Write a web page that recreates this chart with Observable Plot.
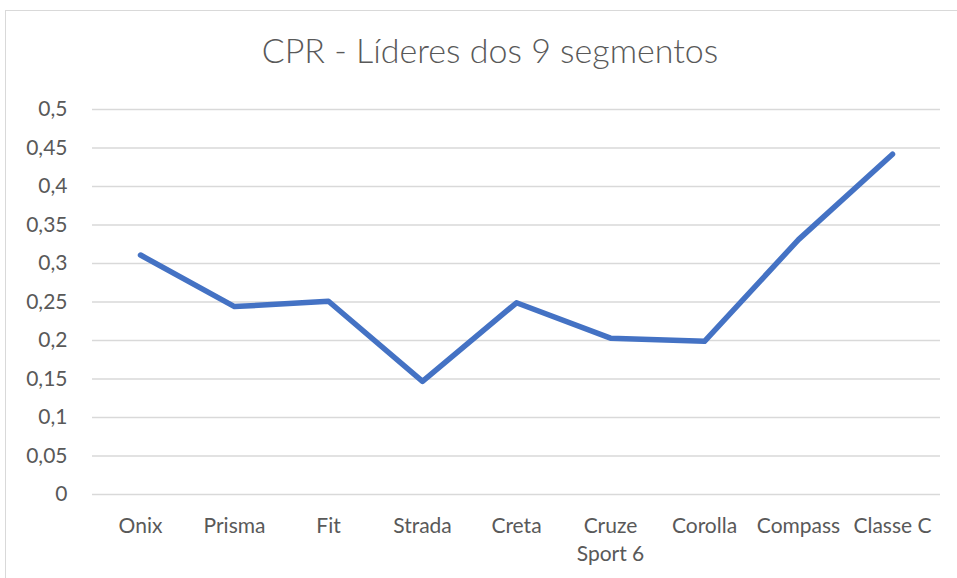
<!DOCTYPE html>
<html>
<head>
<meta charset="utf-8">
<script src="https://cdn.jsdelivr.net/npm/d3@7"></script>
<script src="https://cdn.jsdelivr.net/npm/@observablehq/plot@0.6"></script>
<style>
  html, body { margin: 0; padding: 0; background: #fff; }
  #wrap { position: relative; width: 957px; height: 578px; overflow: hidden; font-family: Lato, "Open Sans", sans-serif; }
  #frame { position: absolute; left: 5px; top: 10px; width: 960px; height: 580px; border: 1px solid #d9d9d9; box-sizing: border-box; }
  #title { position: absolute; left: 0; width: 980px; top: 29px; text-align: center; font-size: 34px; font-weight: 300; color: #595959; margin: 0; }
  #chart { position: absolute; left: 0; top: 0; }
</style>
</head>
<body>
<div id="wrap">
  <div id="frame"></div>
  <h2 id="title">CPR - Líderes dos 9 segmentos</h2>
  <div id="chart"></div>
</div>
<script>
const categories = ["Onix", "Prisma", "Fit", "Strada", "Creta", "Cruze\nSport 6", "Corolla", "Compass", "Classe C"];
const values = [0.311, 0.244, 0.251, 0.147, 0.249, 0.203, 0.199, 0.331, 0.442];
const yTicks = [0, 0.05, 0.1, 0.15, 0.2, 0.25, 0.3, 0.35, 0.4, 0.45, 0.5];

const data = categories.map((c, i) => ({category: c, value: values[i]}));
const fmt = v => String(+v.toFixed(2)).replace(".", ",");

const chart = Plot.plot({
  width: 957,
  height: 578,
  marginLeft: 92,
  marginRight: 17,
  marginTop: 109,
  marginBottom: 84,
  style: {fontFamily: "Lato, 'Open Sans', sans-serif", fontSize: "21px", color: "#595959", background: "transparent"},
  x: {type: "point", domain: categories, padding: 0.5, label: null},
  y: {domain: [0, 0.5], label: null},
  marks: [
    Plot.gridY(yTicks, {stroke: "#d9d9d9", strokeOpacity: 1, strokeWidth: 1.5}),
    Plot.axisY(yTicks, {tickSize: 0, tickPadding: 25, tickFormat: fmt, fill: "#595959", fontSize: 21, label: null}),
    Plot.axisX({tickSize: 0, tickPadding: 19, fill: "#595959", fontSize: 21, label: null, lineHeight: 1.33}),
    Plot.line(data, {x: "category", y: "value", stroke: "#4472C4", strokeWidth: 5.5, strokeLinecap: "round", strokeLinejoin: "round"})
  ]
});
document.getElementById("chart").appendChild(chart);
</script>
</body>
</html>
